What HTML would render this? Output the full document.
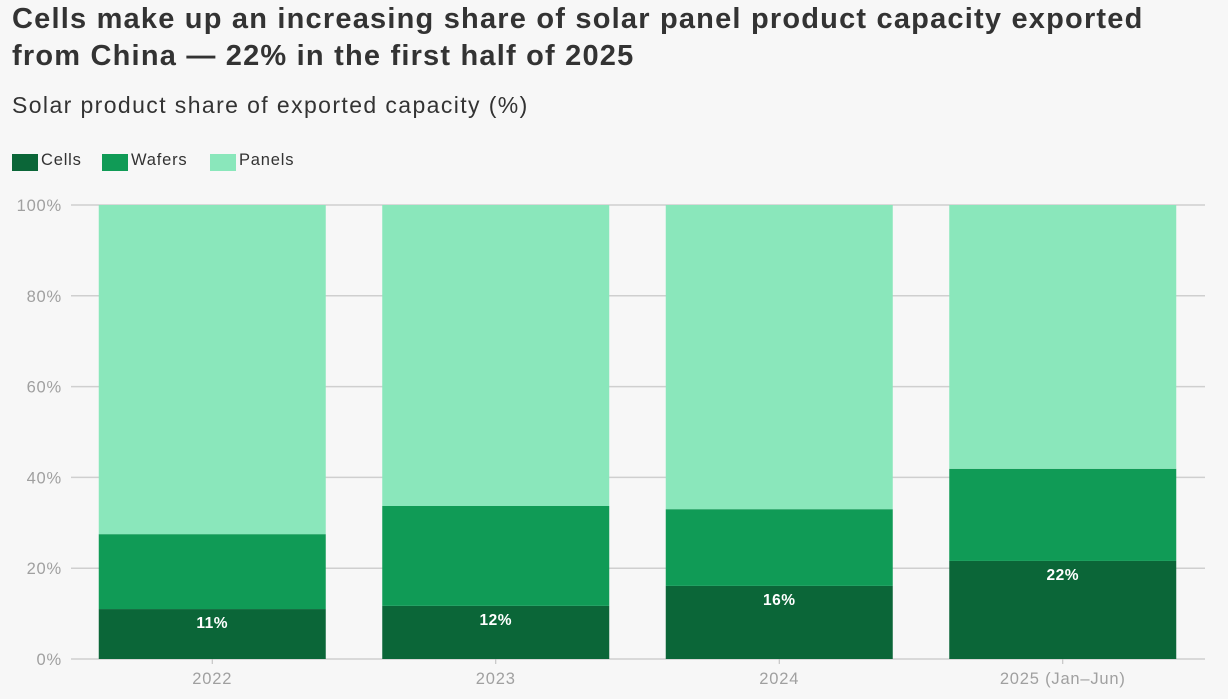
<!DOCTYPE html>
<html><head><meta charset="utf-8"><style>
body{margin:0;background:#f7f7f7;font-family:"Liberation Sans",sans-serif;width:1228px;height:699px;overflow:hidden;position:relative}
h1{position:absolute;left:12px;top:1px;margin:0;font-size:29px;line-height:37px;font-weight:bold;color:#333;letter-spacing:1.2px;white-space:nowrap}
.sub{position:absolute;left:12px;top:92px;font-size:23px;color:#333;letter-spacing:1.4px}
.leg{position:absolute;top:150px;font-size:16.5px;color:#333;display:flex;align-items:center;letter-spacing:0.8px}
.sw{width:26px;height:17px;display:inline-block;margin-right:3px;margin-top:4px}
</style></head><body>
<h1>Cells make up an increasing share of solar panel product capacity exported<br>from China — 22% in the first half of 2025</h1>
<div class="sub">Solar product share of exported capacity (%)</div>
<div class="leg" style="left:12px"><span class="sw" style="background:#0b6638"></span>Cells</div>
<div class="leg" style="left:102px"><span class="sw" style="background:#109b56"></span>Wafers</div>
<div class="leg" style="left:210px"><span class="sw" style="background:#8ae7bb"></span>Panels</div>
<svg id="c" width="1228" height="699" style="position:absolute;left:0;top:0"></svg>
<script>
const categories=["2022","2023","2024","2025 (Jan–Jun)"];
const cells=[11.0,11.7,16.1,21.6];
const wafers=[16.5,22.0,16.9,20.3];
const cellLabels=["11%","12%","16%","22%"];
const yTicks=[0,20,40,60,80,100];
const svg=document.getElementById('c');
const NS='http://www.w3.org/2000/svg';
const x0=71,x1=1205,yB=659,yT=205;
const band=(x1-x0)/categories.length, bw=227;
const y=v=>yB-(yB-yT)*v/100;
const xc=i=>x0+band*(i+0.5)-0.5;
function mk(t,a){const e=document.createElementNS(NS,t);for(const k in a)e.setAttribute(k,a[k]);svg.appendChild(e);return e;}
yTicks.forEach(t=>{
 const l=mk('line',{x1:x0,x2:x1,y1:y(t),y2:y(t),stroke:'#cfcfcf','stroke-width':1.5});
 
 
 const tx=mk('text',{x:62,y:y(t)+6,'text-anchor':'end','font-size':16.5,'letter-spacing':0.8,fill:'#a0a0a0','font-family':'Liberation Sans'});
 tx.textContent=t+'%';
 
 
});
categories.forEach((c,i)=>{
 const cx=xc(i),bx=cx-bw/2;
 const segs=[[0,cells[i],'#0b6638','cells'],[cells[i],cells[i]+wafers[i],'#109b56','wafers'],[cells[i]+wafers[i],100,'#8ae7bb','panels']];
 segs.forEach(s=>{
  const r=mk('rect',{x:bx,y:y(s[1]),width:bw,height:y(s[0])-y(s[1]),fill:s[2]});
  
  
 });
 const lb=mk('text',{x:cx,y:y(cells[i])+19,'text-anchor':'middle','font-size':15.5,'font-weight':'bold','letter-spacing':0.5,fill:'#fff','font-family':'Liberation Sans'});
 lb.textContent=cellLabels[i];
 
 
 mk('line',{x1:cx,x2:cx,y1:yB,y2:yB+5,stroke:'#bbb','stroke-width':1});
 const xt=mk('text',{x:cx,y:684,'text-anchor':'middle','font-size':16.5,'letter-spacing':0.8,fill:'#a0a0a0','font-family':'Liberation Sans'});
 xt.textContent=c;
 
 
});
</script>
</body></html>
